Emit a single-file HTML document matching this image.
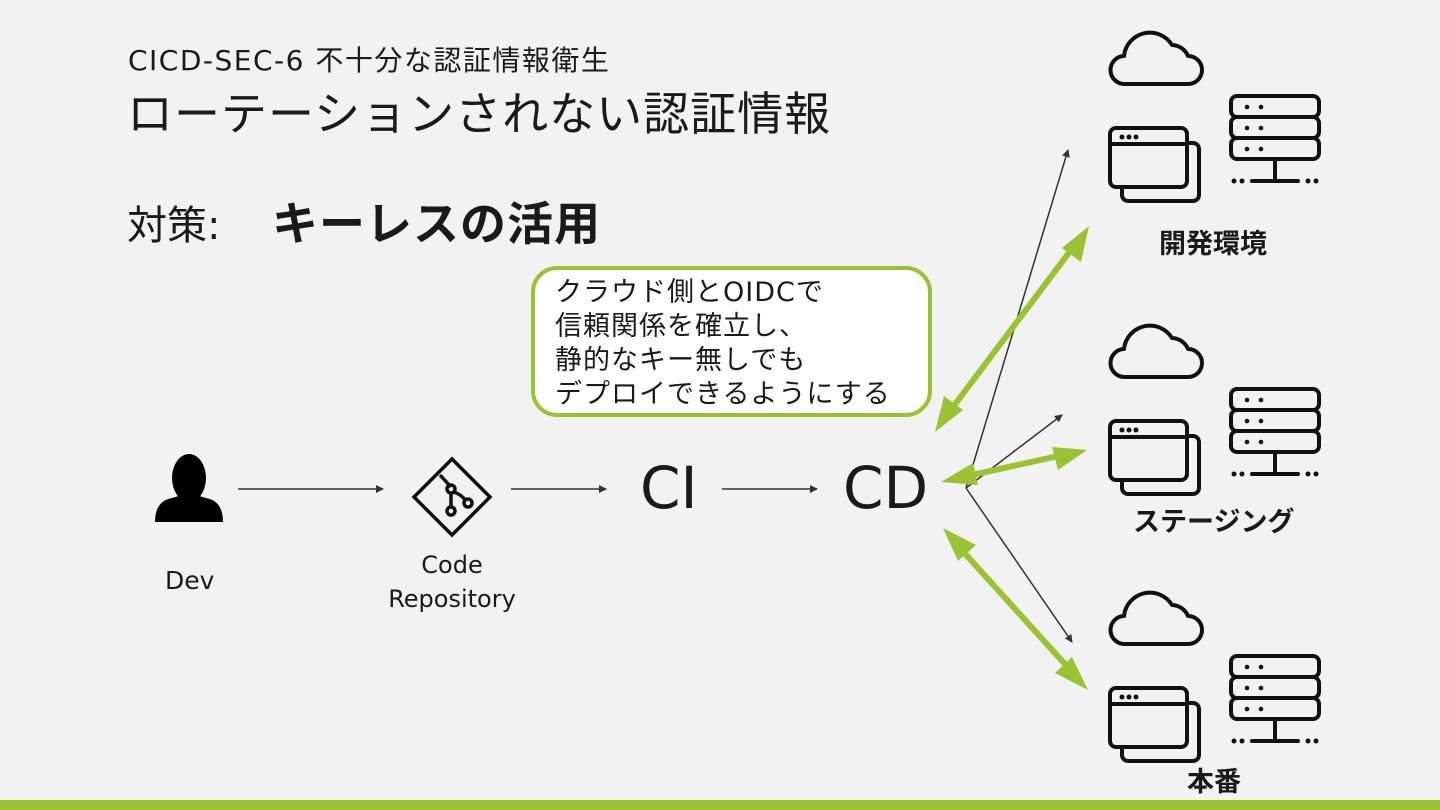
<!DOCTYPE html>
<html><head><meta charset="utf-8"><style>
html,body{margin:0;padding:0;}
body{width:1440px;height:810px;background:#f2f2f2;overflow:hidden;position:relative;font-family:"DejaVu Sans","Noto Sans CJK JP",sans-serif;color:#1a1a1a;}
.t{position:absolute;white-space:nowrap;}
</style></head><body>
<svg width="1440" height="810" style="position:absolute;left:0;top:0" xmlns="http://www.w3.org/2000/svg">
<defs>
<marker id="ah" markerWidth="8" markerHeight="8" refX="7" refY="4" orient="auto" markerUnits="userSpaceOnUse"><path d="M0,0 L8,4 L0,8 Z" fill="#333"/></marker>
<g id="set" fill="none" stroke="#111" stroke-width="4" stroke-linecap="round" stroke-linejoin="round">
<path d="M1125,84 H1188 A14,14 0 0 0 1188,56 A18,18 0 0 0 1172,45 A26,26 0 0 0 1124,56 A14,14 0 0 0 1125,84 Z"/>
<rect x="1122" y="143" width="77" height="58" rx="6"/>
<rect x="1110" y="128" width="77" height="59" rx="6" fill="#f2f2f2"/>
<line x1="1110" y1="144" x2="1187" y2="144"/>
<rect x="1231" y="96" width="88" height="21" rx="6"/>
<rect x="1231" y="117" width="88" height="21" rx="6"/>
<rect x="1231" y="138" width="88" height="21" rx="6"/>
<line x1="1275" y1="159" x2="1275" y2="181"/>
<line x1="1252" y1="181" x2="1298" y2="181"/>
<g fill="#111" stroke="none">
<circle cx="1122" cy="137" r="2.5"/><circle cx="1129" cy="137" r="2.5"/><circle cx="1136" cy="137" r="2.5"/>
<circle cx="1247" cy="107" r="2.3"/><circle cx="1261" cy="107" r="2.3"/>
<circle cx="1247" cy="128" r="2.3"/><circle cx="1261" cy="128" r="2.3"/>
<circle cx="1247" cy="149" r="2.3"/><circle cx="1261" cy="149" r="2.3"/>
<circle cx="1234" cy="181" r="2.5"/><circle cx="1242" cy="181" r="2.5"/>
<circle cx="1308" cy="181" r="2.5"/><circle cx="1316" cy="181" r="2.5"/>
</g>
</g>
</defs>
<use href="#set"/>
<use href="#set" transform="translate(0,293)"/>
<use href="#set" transform="translate(0,560)"/>

<g fill="#000">
<ellipse cx="189" cy="478" rx="17" ry="24"/>
<path d="M155,522 Q155,501 172,498 L182,495 L196,495 L206,498 Q223,501 223,522 Z"/>
</g>
<g fill="none" stroke="#111" stroke-width="3.5">
<path d="M452,459 L490,497 L452,535 L414,497 Z"/>
<line x1="440" y1="475" x2="451" y2="487"/>
<line x1="451" y1="492" x2="451" y2="507"/>
<circle cx="451" cy="489" r="4"/>
<circle cx="451" cy="511" r="4"/>
<path d="M454,492 Q462,495 465,500"/>
<circle cx="468" cy="503" r="4"/>
</g>

<g stroke="#333" stroke-width="1.5" fill="none" marker-end="url(#ah)">
<line x1="238" y1="489" x2="383" y2="489"/>
<line x1="511" y1="489" x2="606" y2="489"/>
<line x1="722" y1="489" x2="817" y2="489"/>
<line x1="966" y1="488" x2="1068" y2="150"/>
<line x1="966" y1="488" x2="1072" y2="642"/>
<line x1="966" y1="488" x2="1062" y2="415"/>
</g>

<g stroke="#9bc232" stroke-width="6" fill="#9bc232">
<line x1="950" y1="411" x2="1074" y2="246"/>
<path d="M935,432 L944,396 L963,410 Z" stroke="none"/>
<path d="M1089,226 L1081,262 L1062,248 Z" stroke="none"/>
<line x1="963" y1="477" x2="1063" y2="455"/>
<path d="M941,482 L973,463 L978,485 Z" stroke="none"/>
<path d="M1087,450 L1052,447 L1058,470 Z" stroke="none"/>
<line x1="959" y1="547" x2="1073" y2="673"/>
<path d="M943,528 L976,545 L958,561 Z" stroke="none"/>
<path d="M1088,690 L1055,673 L1072,657 Z" stroke="none"/>
</g>

<rect x="533" y="268" width="397" height="147" rx="24" fill="#fff" stroke="#9bc232" stroke-width="4"/>
<rect x="0" y="800" width="1440" height="10" fill="#9bc232"/>
</svg>

<div class="t" style="left:128px;top:39px;font-size:28px;letter-spacing:1.5px;">CICD-SEC-6 不十分な認証情報衛生</div>
<div class="t" style="left:127px;top:78px;font-size:46px;letter-spacing:1px;">ローテーションされない認証情報</div>
<div class="t" style="left:127px;top:193px;font-size:40px;">対策:</div>
<div class="t" style="left:272px;top:188px;font-size:46px;font-weight:bold;letter-spacing:1px;">キーレスの活用</div>

<div class="t" style="left:555px;top:276px;font-size:27px;line-height:34px;letter-spacing:1px;">クラウド側とOIDCで<br>信頼関係を確立し、<br>静的なキー無しでも<br>デプロイできるようにする</div>

<div class="t" style="left:165px;top:566px;font-size:25px;">Dev</div>
<div class="t" style="left:362px;top:548px;width:180px;text-align:center;font-size:24px;line-height:34px;">Code<br>Repository</div>
<div class="t" style="left:640px;top:454px;font-size:58px;">CI</div>
<div class="t" style="left:843px;top:454px;font-size:58px;">CD</div>

<div class="t" style="left:1159px;top:222px;font-size:27px;font-weight:bold;">開発環境</div>
<div class="t" style="left:1133px;top:500px;font-size:27px;font-weight:bold;">ステージング</div>
<div class="t" style="left:1187px;top:760px;font-size:27px;font-weight:bold;">本番</div>
</body></html>
